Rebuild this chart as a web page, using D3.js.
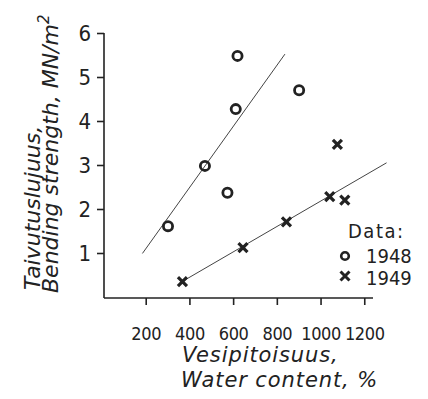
<!DOCTYPE html>
<html lang="en">

<head>
    <meta charset="UTF-8">
    <title>bending_strength</title>
    <script src="https://cdn.jsdelivr.net/npm/d3@7"></script>
    <style>
        body { margin: 0; background: #fff; }
        .cond { font-family: 'DejaVu Sans Condensed', 'DejaVu Sans', sans-serif; font-stretch: condensed; }
        .ital { font-family: 'DejaVu Sans', sans-serif; font-style: oblique; }
    </style>
</head>

<body>
    <svg width="428" height="399" id="mainsvg"></svg>
    <script>
        // values
        const years = ['1948', '1949'];
        const water1948 = [302, 471, 574, 612, 620, 902];
        const strength1948 = [1.61, 2.98, 2.37, 4.27, 5.48, 4.70];
        const water1949 = [368, 645, 844, 1042, 1077, 1111];
        const strength1949 = [0.35, 1.12, 1.71, 2.28, 3.47, 2.20];
        const fitWater1948 = [185, 837];
        const fitStrength1948 = [0.99, 5.52];
        const fitWater1949 = [370, 1302];
        const fitStrength1949 = [0.36, 3.05];
        const xTicks = [200, 400, 600, 800, 1000, 1200];
        const yTicks = [1, 2, 3, 4, 5, 6];

        const svg = d3.select('#mainsvg');
        const ink = '#222';
        const axisX = 104;   // where the y axis sits
        const axisY = 298;   // where the x axis sits

        const x = d3.scaleLinear().domain([0, 1240]).range([102, 373]);
        const y = d3.scaleLinear().domain([0, 6]).range([297, 33]);

        // y axis
        const yAxis = d3.axisLeft(y).tickValues(yTicks).tickFormat(d3.format('d'))
            .tickSize(7).tickSizeOuter(0).tickPadding(6);
        svg.append('g').attr('id', 'yaxis')
            .attr('transform', `translate(${axisX},0)`)
            .call(yAxis)
            .call(g => g.select('.domain').attr('d', `M0,${y(6)}V${axisY}`));

        // x axis
        const xAxis = d3.axisBottom(x).tickValues(xTicks).tickFormat(d3.format('d'))
            .tickSize(7).tickSizeOuter(0).tickPadding(22);
        svg.append('g').attr('id', 'xaxis')
            .attr('transform', `translate(0,${axisY})`)
            .call(xAxis)
            .call(g => g.select('.domain').attr('d', `M${axisX},0H${x.range()[1]}`));

        svg.selectAll('.domain, .tick line').attr('stroke', ink).attr('stroke-width', 1.6);
        svg.selectAll('.tick text').attr('fill', ink).attr('class', 'cond');
        svg.selectAll('#yaxis .tick text').attr('font-size', 22);
        svg.selectAll('#xaxis .tick text').attr('font-size', 18).attr('letter-spacing', -0.4);

        // fitted lines
        const line = d3.line().x(d => x(d[0])).y(d => y(d[1]));
        [[fitWater1948, fitStrength1948], [fitWater1949, fitStrength1949]].forEach(([w, s]) => {
            svg.append('path')
                .datum(w.map((v, i) => [v, s[i]]))
                .attr('d', line)
                .attr('fill', 'none')
                .attr('stroke', '#444')
                .attr('stroke-width', 1);
        });

        // markers
        const crossPath = 'M-4.5,-4.5L4.5,4.5M-4.5,4.5L4.5,-4.5';
        svg.append('g').selectAll('circle')
            .data(water1948.map((v, i) => [v, strength1948[i]]))
            .join('circle')
            .attr('cx', d => x(d[0]))
            .attr('cy', d => y(d[1]))
            .attr('r', 4.6)
            .attr('fill', 'none')
            .attr('stroke', ink)
            .attr('stroke-width', 2.8);
        svg.append('g').selectAll('path')
            .data(water1949.map((v, i) => [v, strength1949[i]]))
            .join('path')
            .attr('transform', d => `translate(${x(d[0])},${y(d[1])})`)
            .attr('d', crossPath)
            .attr('stroke', ink)
            .attr('stroke-width', 3.2);

        // axis titles (two lines each, kept in one text)
        const yTitle = svg.append('text').attr('class', 'ital').attr('fill', ink).attr('font-size', 22)
            .attr('transform', 'translate(40,290) rotate(-90)');
        yTitle.append('tspan').attr('x', 0).attr('y', 0).text('Taivutuslujuus,');
        yTitle.append('tspan').attr('x', -3).attr('y', 18).text('Bending strength, MN/m');
        yTitle.append('tspan').attr('dy', -9).attr('font-size', 15).text('2');

        const xTitle = svg.append('text').attr('class', 'ital').attr('fill', ink)
            .attr('font-size', 21).attr('letter-spacing', 0.9);
        xTitle.append('tspan').attr('x', 182).attr('y', 362).text('Vesipitoisuus,');
        xTitle.append('tspan').attr('x', 181).attr('y', 387).text('Water content, %');

        // legend
        const legend = svg.append('g').attr('class', 'cond').attr('fill', ink).attr('font-size', 20);
        legend.append('text').attr('x', 348).attr('y', 238).attr('letter-spacing', 1.5).text('Data:');
        legend.append('circle').attr('cx', 345).attr('cy', 256).attr('r', 3.8)
            .attr('fill', 'none').attr('stroke', ink).attr('stroke-width', 2.6);
        legend.append('path').attr('transform', 'translate(345,276)').attr('d', crossPath)
            .attr('stroke', ink).attr('stroke-width', 3);
        legend.selectAll('.yr').data(years).join('text')
            .attr('class', 'yr')
            .attr('x', 366)
            .attr('y', (d, i) => 263 + i * 22)
            .text(d => d);
    </script>
</body>

</html>
